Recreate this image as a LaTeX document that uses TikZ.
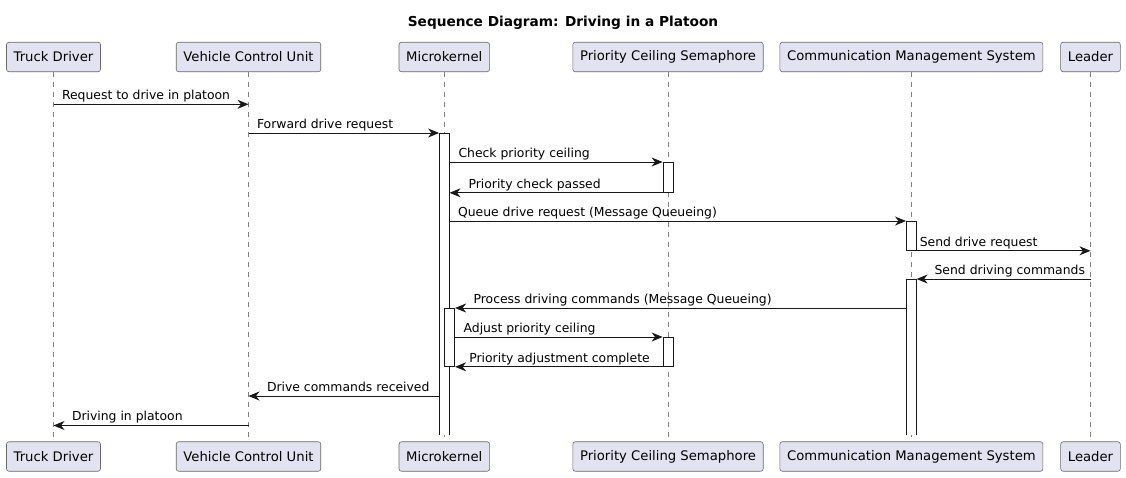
\documentclass[tikz,border=0pt]{standalone}
\usepackage{fontspec}
\setmainfont{DejaVu Sans}
\usepackage{tikz}
\usetikzlibrary{arrows.meta}
\definecolor{umlbox}{HTML}{E2E2F0}
\definecolor{umlline}{HTML}{181818}

\begin{document}
\begin{tikzpicture} [x=1pt, y=-1pt,
	actor/.style={draw=umlline!65, fill=umlbox, line width=0.6pt, rounded corners=2.5pt, minimum height=29.5pt, inner xsep=7.2pt, font=\fontsize{13.2}{16}\selectfont},
	lifeline/.style={draw=umlline!55, line width=0.6pt, dash pattern=on 5pt off 5pt},
	actbar/.style={draw=umlline, fill=white, line width=0.8pt, minimum width=10pt, inner sep=0pt},
	openbar/.style={fill=white, minimum width=10pt, inner sep=0pt},
	barside/.style={draw=umlline, line width=0.8pt},
	msg/.style={draw=umlline, line width=1pt, -{Stealth[length=11pt, width=9pt, inset=3.5pt]}},
	msgtext/.style={anchor=base west, inner sep=0pt, yshift=4.8pt, font=\fontsize{12.4}{15}\selectfont}]
	\useasboundingbox[fill=white] (0,0) rectangle (1126,477);
	\node [font=\bfseries\fontsize{13.7}{16}\selectfont, anchor=base] (title) at (563,26.7) {Sequence Diagram: Driving in a Platoon};

	\node [actor] (td) at (53.5,57) {Truck Driver};
	\node [actor] (vcu) at (248.5,57) {Vehicle Control Unit};
	\node [actor] (mk) at (444.3,57) {Microkernel};
	\node [actor] (pcs) at (668,57) {Priority Ceiling Semaphore};
	\node [actor] (cms) at (911.4,57) {Communication Management System};
	\node [actor] (ld) at (1090.5,57) {Leader};

	\node [actor] (td2) at (53.5,456.5) {Truck Driver};
	\node [actor] (vcu2) at (248.5,456.5) {Vehicle Control Unit};
	\node [actor] (mk2) at (444.3,456.5) {Microkernel};
	\node [actor] (pcs2) at (668,456.5) {Priority Ceiling Semaphore};
	\node [actor] (cms2) at (911.4,456.5) {Communication Management System};
	\node [actor] (ld2) at (1090.5,456.5) {Leader};

	\draw [lifeline] (td.south) -- (td2.north);
	\draw [lifeline] (vcu.south) -- (vcu2.north);
	\draw [lifeline] (mk.south) -- (mk2.north);
	\draw [lifeline] (pcs.south) -- (pcs2.north);
	\draw [lifeline] (cms.south) -- (cms2.north);
	\draw [lifeline] (ld.south) -- (ld2.north);

	\node [openbar, anchor=north, minimum height=302pt] (mkbar1) at (mk |- 0,133) {};
	\draw [barside] (mkbar1.south west) |- (mkbar1.north east) -- (mkbar1.south east);
	\node [actbar, anchor=north, minimum height=30pt] (pcsbar1) at (pcs |- 0,162) {};
	\node [actbar, anchor=north, minimum height=29pt] (cmsbar1) at (cms |- 0,221) {};
	\node [openbar, anchor=north, minimum height=156pt] (cmsbar2) at (cms |- 0,279) {};
	\draw [barside] (cmsbar2.south west) |- (cmsbar2.north east) -- (cmsbar2.south east);
	\node [actbar, anchor=north west, minimum height=58pt] (mkbar2) at (mk |- 0,308) {};
	\node [actbar, anchor=north, minimum height=29pt] (pcsbar2) at (pcs |- 0,337) {};

	\draw [msg] (td |- 0,104.3) -- node [msgtext, pos=0, xshift=8pt] (l1) {Request to drive in platoon} (vcu |- 0,104.3);
	\draw [msg] (vcu |- mkbar1.north) -- node [msgtext, pos=0, xshift=8pt] (l2) {Forward drive request} (mkbar1.north west);
	\draw [msg] (mkbar1.east |- pcsbar1.north) -- node [msgtext, pos=0, xshift=8.5pt] (l3) {Check priority ceiling} (pcsbar1.north west);
	\draw [msg] (pcsbar1.south west) -- node [msgtext, pos=1, xshift=18.5pt] (l4) {Priority check passed} (mkbar1.east |- pcsbar1.south);
	\draw [msg] (mkbar1.east |- cmsbar1.north) -- node [msgtext, pos=0, xshift=8pt] (l5) {Queue drive request (Message Queueing)} (cmsbar1.north west);
	\draw [msg] (cmsbar1.south east) -- node [msgtext, pos=0, xshift=2.5pt] (l6) {Send drive request} (ld |- cmsbar1.south);
	\draw [msg] (ld |- cmsbar2.north) -- node [msgtext, pos=1, xshift=17.5pt] (l7) {Send driving commands} (cmsbar2.north east);
	\draw [msg] (cmsbar2.west |- mkbar2.north) -- node [msgtext, pos=1, xshift=18pt] (l8) {Process driving commands (Message Queueing)} (mkbar2.north east);
	\draw [msg] (mkbar2.east |- pcsbar2.north) -- node [msgtext, pos=0, xshift=8pt] (l9) {Adjust priority ceiling} (pcsbar2.north west);
	\draw [msg] (pcsbar2.south west) -- node [msgtext, pos=1, xshift=13.7pt] (l10) {Priority adjustment complete} (mkbar2.south east);
	\draw [msg] (mkbar1.west |- 0,396) -- node [msgtext, pos=1, xshift=18pt] (l11) {Drive commands received} (vcu |- 0,396);
	\draw [msg] (vcu |- 0,425.5) -- node [msgtext, pos=1, xshift=18pt] (l12) {Driving in platoon} (td |- 0,425.5);
\end{tikzpicture}
\end{document}
